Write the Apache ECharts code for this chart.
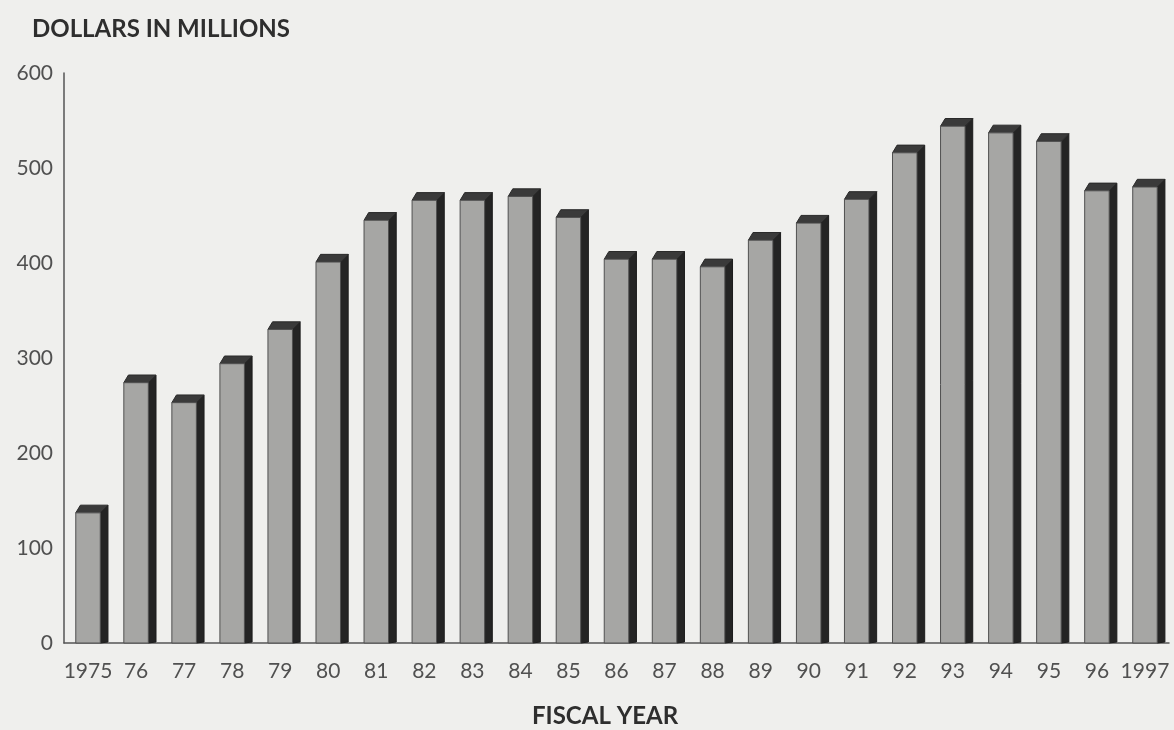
<!DOCTYPE html>
<html>
<head>
<meta charset="utf-8">
<script src="https://cdn.jsdelivr.net/npm/echarts@6/dist/echarts.min.js"></script>
<style>
  html, body { margin: 0; padding: 0; background: #efefed; }
  #chart { width: 1174px; height: 730px; }
</style>
</head>
<body>
<div id="chart"></div>
<script>
// Fiscal years shown on the category axis
const years = ['1975', '76', '77', '78', '79', '80', '81', '82', '83', '84', '85', '86',
               '87', '88', '89', '90', '91', '92', '93', '94', '95', '96', '1997'];

// Budget, dollars in millions
const dollars = [137, 274, 253, 294, 330, 401, 445, 466, 466, 470, 448, 404,
                 404, 396, 424, 442, 467, 516, 544, 537, 528, 476, 480];

// Value axis ticks
const yTicks = [0, 100, 200, 300, 400, 500, 600];

const FONT = 'Lato, "Open Sans", sans-serif';

// Draws one block-shaded column: front face, dark right side and a top bevel
function renderColumn(params, api) {
  const idx = api.value(0);
  const top = api.coord([idx, api.value(1)]);
  const base = api.coord([idx, 0]);
  const band = api.size([1, 0])[0];
  const w = band * 0.51;
  const d = band * 0.16;
  const x0 = top[0] - w / 2;
  const yT = top[1];
  const yB = base[1];
  return {
    type: 'group',
    children: [
      {
        type: 'polygon',
        shape: { points: [[x0 + w, yT], [x0 + w + d, yT - d], [x0 + w + d, yB - 1], [x0 + w, yB]] },
        style: { fill: '#242424', stroke: '#1c1c1c', lineWidth: 1 }
      },
      {
        type: 'polygon',
        shape: { points: [[x0, yT], [x0 + d * 0.6, yT - d], [x0 + w + d, yT - d], [x0 + w, yT]] },
        style: { fill: '#3a3a3a', stroke: '#2a2a2a', lineWidth: 1 }
      },
      {
        type: 'rect',
        shape: { x: x0, y: yT, width: w, height: yB - yT },
        style: { fill: '#a6a6a4', stroke: '#505050', lineWidth: 1 }
      }
    ]
  };
}

const chart = echarts.init(document.getElementById('chart'), null, { renderer: 'canvas' });

chart.setOption({
  backgroundColor: '#efefed',
  animation: false,
  title: {
    text: 'DOLLARS IN MILLIONS',
    left: 27,
    top: 12,
    textStyle: { fontFamily: FONT, fontSize: 24, fontWeight: 'bold', color: '#2e2e2e' }
  },
  grid: { left: 64, right: 5, top: 73, bottom: 87 },
  xAxis: {
    type: 'category',
    data: years,
    axisLine: { lineStyle: { color: '#555', width: 1.5 } },
    axisTick: { show: false },
    axisLabel: { fontFamily: FONT, fontSize: 21, color: '#505050', margin: 18, interval: 0 }
  },
  yAxis: {
    type: 'value',
    min: yTicks[0],
    max: yTicks[yTicks.length - 1],
    interval: yTicks[1] - yTicks[0],
    axisLine: { show: true, lineStyle: { color: '#555', width: 1.5 } },
    axisTick: { show: false },
    splitLine: { show: false },
    axisLabel: { fontFamily: FONT, fontSize: 21, color: '#505050', margin: 11 }
  },
  graphic: [
    {
      type: 'text',
      left: 532,
      top: 704,
      style: { text: 'FISCAL YEAR', fontFamily: FONT, fontSize: 24, fontWeight: 'bold', fill: '#2e2e2e' }
    }
  ],
  series: [
    {
      type: 'custom',
      renderItem: renderColumn,
      data: dollars.map((v, i) => [i, v]),
      encode: { x: 0, y: 1 },
      clip: false
    }
  ]
});
</script>
</body>
</html>
